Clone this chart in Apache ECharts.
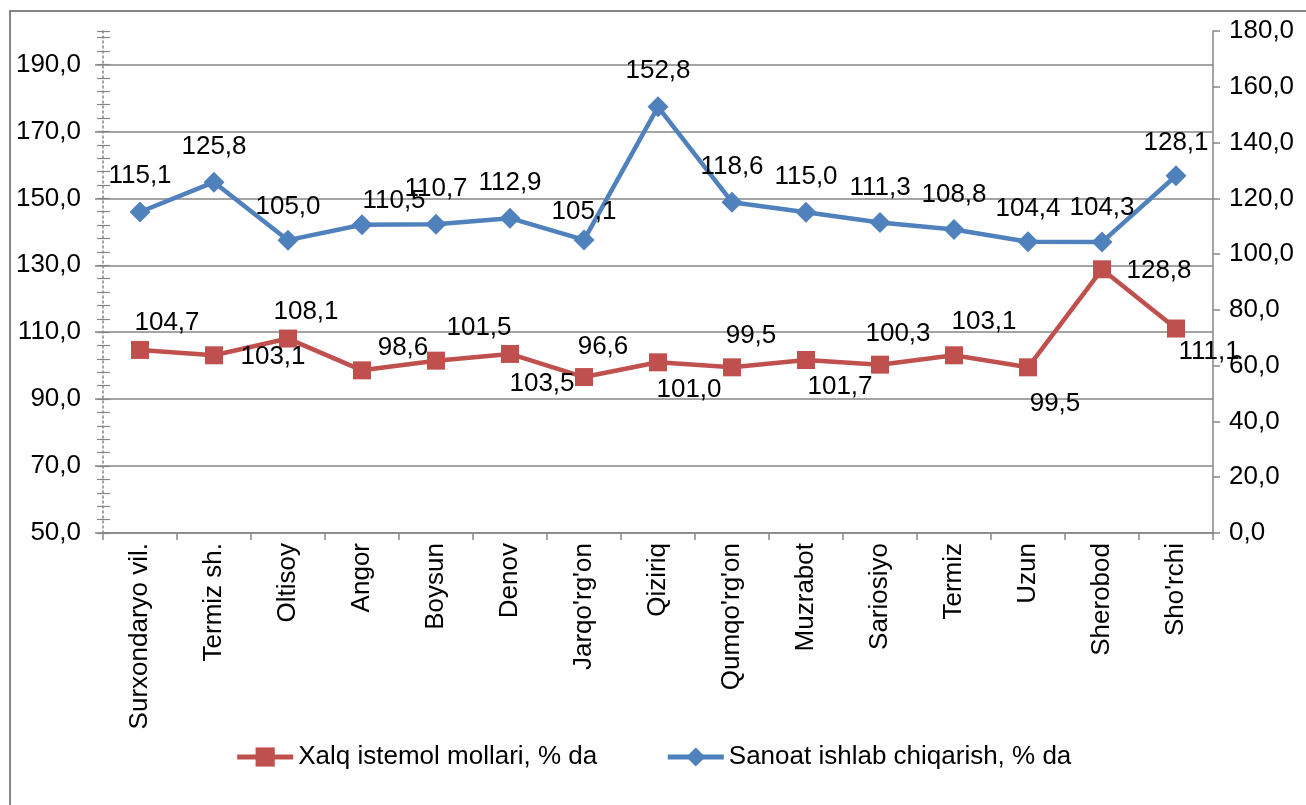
<!DOCTYPE html>
<html>
<head>
<meta charset="utf-8">
<script src="https://cdn.jsdelivr.net/npm/echarts@6/dist/echarts.min.js"></script>
<style>
  html, body { margin: 0; padding: 0; background: #fff; }
  #chart { width: 1306px; height: 805px; }
</style>
</head>
<body>
<div id="chart"></div>
<script>
// categories (districts)
const categories = ['Surxondaryo vil.', 'Termiz sh.', 'Oltisoy', 'Angor', 'Boysun', 'Denov', "Jarqo'rg'on",
  'Qiziriq', "Qumqo'rg'on", 'Muzrabot', 'Sariosiyo', 'Termiz', 'Uzun', 'Sherobod', "Sho'rchi"]

// Xalq istemol mollari, % da (left axis)
const consumerGoods = [104.7, 103.1, 108.1, 98.6, 101.5, 103.5, 96.6, 101.0, 99.5, 101.7, 100.3, 103.1, 99.5, 128.8, 111.1]
// Sanoat ishlab chiqarish, % da (right axis)
const industry = [115.1, 125.8, 105.0, 110.5, 110.7, 112.9, 105.1, 152.8, 118.6, 115.0, 111.3, 108.8, 104.4, 104.3, 128.1]

// label placement (style only) - the source chart has hand-moved labels
const redLabelShift = [[27, -27], [59, 2], [18, -27], [41, -23], [43, -33], [32, 30], [19, -30], [31, 28],
  [19, -32], [34, 27], [18, -31], [30, -33], [27, 36], [57, 2], [33, 23]]
const blueLabelShift = [[0, -36], [0, -35], [0, -33], [32, -24], [0, -35], [0, -35], [0, -28], [0, -36],
  [0, -35], [0, -35], [0, -35], [0, -35], [0, -33], [0, -34], [0, -33]]

const FONT = "'Liberation Sans', Arial, sans-serif"
const GREY = '#868686'
const FS = 26
const fmt = v => v.toFixed(1).replace('.', ',')

const chart = echarts.init(document.getElementById('chart'))

const labelBase = {
  show: true,
  position: 'inside',
  color: '#000',
  fontSize: FS,
  fontFamily: FONT,
  formatter: p => fmt(p.value)
}

chart.setOption({
  animation: false,
  textStyle: { fontFamily: FONT, color: '#000' },
  graphic: [{
    type: 'rect',
    shape: { x: 10, y: 11, width: 1320, height: 820 },
    style: { fill: 'none', stroke: GREY, lineWidth: 2 },
    silent: true
  }],
  grid: { left: 103, right: 93, top: 31, bottom: 272 },
  legend: {
    left: 'center',
    top: 739,
    itemWidth: 56,
    itemHeight: 24,
    itemGap: 68,
    textStyle: { fontSize: FS, color: '#000', fontFamily: FONT },
    data: [
      { name: 'Xalq istemol mollari, % da', lineStyle: { width: 5 } },
      { name: 'Sanoat ishlab chiqarish, % da', lineStyle: { width: 5 } }
    ]
  },
  xAxis: {
    type: 'category',
    data: categories,
    boundaryGap: true,
    axisLine: { lineStyle: { color: GREY, width: 1.5 } },
    axisTick: { show: true, length: 7, lineStyle: { color: GREY, width: 1.5 } },
    axisLabel: { rotate: 90, fontSize: FS, color: '#000', margin: 10, interval: 0, fontFamily: FONT }
  },
  yAxis: [
    {
      type: 'value', position: 'left', min: 50, max: 200, interval: 20,
      axisLine: { show: true, lineStyle: { color: GREY, width: 1.5, type: [2, 3] } },
      axisTick: { show: true, length: 8, lineStyle: { color: GREY, width: 1.5 } },
      axisLabel: { formatter: fmt, fontSize: FS, color: '#000', margin: 22, showMaxLabel: false, fontFamily: FONT },
      splitLine: { show: true, showMaxLine: false, lineStyle: { color: GREY, width: 1.5 } }
    },
    {
      type: 'value', position: 'right', min: 0, max: 180, interval: 20,
      axisLine: { show: true, lineStyle: { color: GREY, width: 1.5 } },
      axisTick: { show: true, length: 7, lineStyle: { color: GREY, width: 1.5 } },
      axisLabel: { formatter: fmt, fontSize: FS, color: '#000', margin: 16, fontFamily: FONT },
      splitLine: { show: false }
    },
    {
      // minor cross marks, inner half
      type: 'value', position: 'left', min: 50, max: 200, interval: 4,
      axisLine: { show: false },
      axisTick: { show: true, inside: true, length: 7, lineStyle: { color: GREY, width: 1.2 } },
      axisLabel: { show: false },
      splitLine: { show: false }
    },
    {
      // minor cross marks, outer half
      type: 'value', position: 'left', min: 50, max: 200, interval: 4,
      axisLine: { show: false },
      axisTick: { show: true, inside: false, length: 6, lineStyle: { color: GREY, width: 1.2 } },
      axisLabel: { show: false },
      splitLine: { show: false }
    }
  ],
  series: [
    {
      name: 'Xalq istemol mollari, % da',
      type: 'line',
      yAxisIndex: 0,
      symbol: 'rect',
      symbolSize: 18,
      color: '#C0504D',
      lineStyle: { width: 4.5, color: '#C0504D' },
      itemStyle: { color: '#C0504D' },
      label: labelBase,
      data: consumerGoods.map((v, i) => ({ value: v, label: { offset: redLabelShift[i] } }))
    },
    {
      name: 'Sanoat ishlab chiqarish, % da',
      type: 'line',
      yAxisIndex: 1,
      symbol: 'diamond',
      symbolSize: 21,
      color: '#4F81BD',
      lineStyle: { width: 4.5, color: '#4F81BD' },
      itemStyle: { color: '#4F81BD' },
      label: labelBase,
      data: industry.map((v, i) => ({ value: v, label: { offset: blueLabelShift[i] } }))
    }
  ]
})
</script>
</body>
</html>
